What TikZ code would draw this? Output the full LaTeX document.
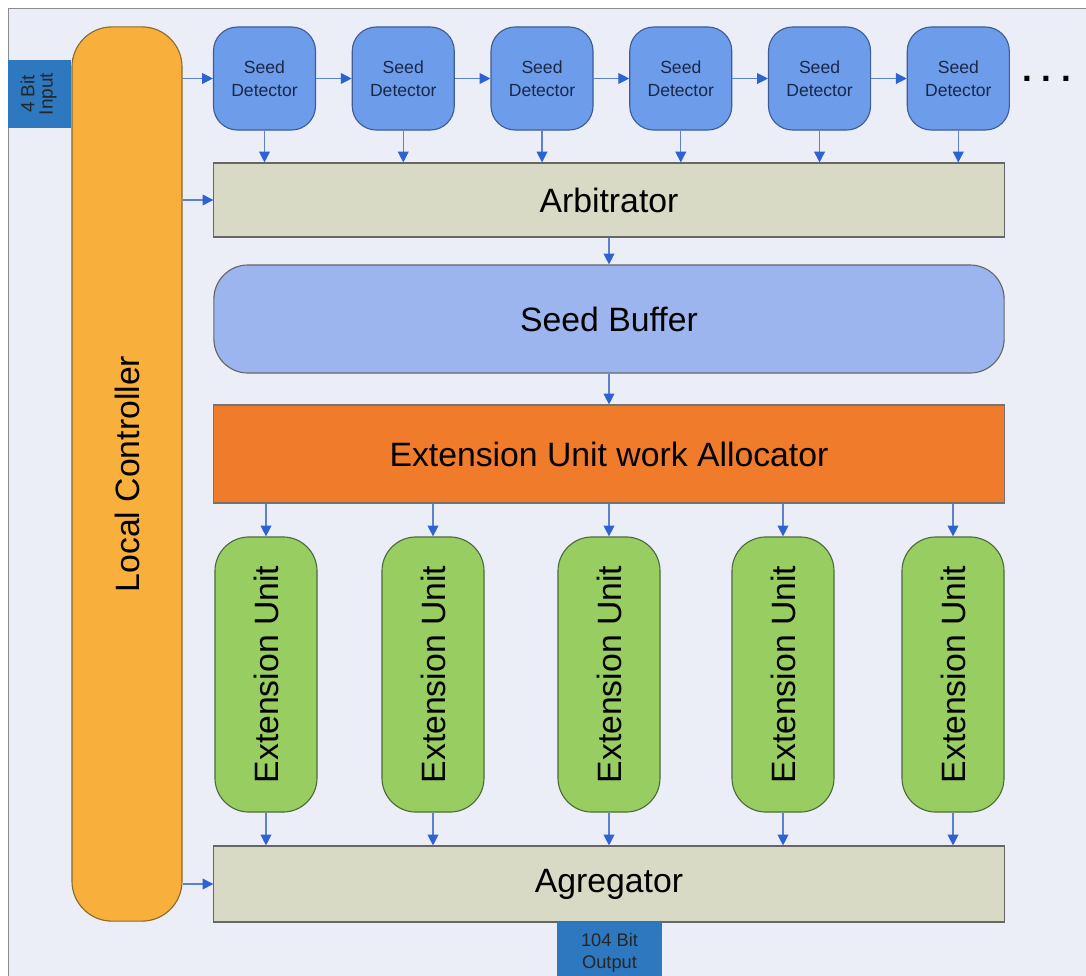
\documentclass[tikz,border=0pt]{standalone}
\usepackage{fontspec}
\setmainfont{Liberation Sans}
\usepackage{graphicx}
\usepackage{xcolor}
\usetikzlibrary{arrows.meta,positioning}
\definecolor{frameback}{HTML}{ECEEF7}
\definecolor{ctrlfill}{HTML}{F8AF3C}
\definecolor{ctrldraw}{HTML}{8C6A2E}
\definecolor{iofill}{HTML}{2E78C0}
\definecolor{sdfill}{HTML}{6C9CEA}
\definecolor{sddraw}{HTML}{3E5C96}
\definecolor{sdtext}{HTML}{1A2848}
\definecolor{barfill}{HTML}{D9DAC5}
\definecolor{buffill}{HTML}{9DB5EE}
\definecolor{allocfill}{HTML}{F07B2B}
\definecolor{eufill}{HTML}{98CD62}
\definecolor{eudraw}{HTML}{4C6B3C}
\definecolor{arrline}{HTML}{5A82CF}
\definecolor{arrhead}{HTML}{2D62D2}
\tikzset{
  sd/.style  ={draw=sddraw, fill=sdfill, line width=0.8pt, rounded corners=0.6cm, align=center, text=sdtext, font=\fontsize{12.5}{16.3}\selectfont, minimum width=2.55cm, minimum height=2.575cm, inner sep=0pt},
  bar/.style ={draw=black!60, fill=barfill, line width=0.8pt, minimum width=19.75cm, font=\fontsize{24}{28}\selectfont, inner sep=0pt},
  eu/.style  ={draw=eudraw, fill=eufill, line width=0.8pt, rounded corners=0.85cm, minimum width=2.55cm, minimum height=6.875cm, font=\fontsize{24}{28}\selectfont, inner sep=0pt},
  io/.style  ={fill=iofill, align=center, text=black!85, inner sep=0pt},
  arr/.style ={draw=arrline, line width=0.8pt, -{Triangle[length=0.27cm, width=0.27cm, color=arrhead]}},
}

\begin{document}
\begin{tikzpicture}[x=0.025cm, y=-0.025cm]
  \useasboundingbox (0,0) rectangle (1086,975);
  \fill[white] (0,0) rectangle (1086,975);
  \draw[draw=black!45, fill=frameback] (8,8) rectangle (1100,990);
  % controller and input port
  \node[draw=ctrldraw, fill=ctrlfill, line width=0.8pt, rounded corners=1cm, minimum width=2.75cm, minimum height=22.35cm, inner sep=0pt, font=\fontsize{24}{28}\selectfont] (lc) at (127,474) {\rotatebox{90}{Local Controller}};
  \node[io, minimum width=1.575cm, minimum height=1.7cm] (inp) at (39.5,94) {\rotatebox{90}{\fontsize{13.5}{14}\selectfont\begin{tabular}{@{}c@{}}4 Bit\\[-1pt]Input\end{tabular}}};
  % seed detectors
  \node[sd] (sd1) at (264.5,78.5) {Seed\\Detector};
  \node[sd, right=0.89cm of sd1] (sd2) {Seed\\Detector};
  \node[sd, right=0.89cm of sd2] (sd3) {Seed\\Detector};
  \node[sd, right=0.89cm of sd3] (sd4) {Seed\\Detector};
  \node[sd, right=0.89cm of sd4] (sd5) {Seed\\Detector};
  \node[sd, right=0.89cm of sd5] (sd6) {Seed\\Detector};
  \node[right=0.3cm of sd6, inner sep=0pt, font=\fontsize{25}{25}\selectfont\bfseries] (dots) {.\hspace{0.28em}.\hspace{0.28em}.};
  % main pipeline
  \node[bar, minimum height=1.85cm] (arb) at (609,200) {Arbitrator};
  \node[bar, fill=buffill, rounded corners=0.85cm, minimum height=2.7cm] (sb) at (609,319) {Seed Buffer};
  \node[bar, fill=allocfill, draw=black!55, minimum height=2.45cm] (alloc) at (609,454) {Extension Unit work Allocator};
  \node[eu] (eu1) at (266,674.5) {\rotatebox{90}{Extension Unit}};
  \node[eu] (eu2) at (433,674.5) {\rotatebox{90}{Extension Unit}};
  \node[eu] (eu3) at (609,674.5) {\rotatebox{90}{Extension Unit}};
  \node[eu] (eu4) at (783,674.5) {\rotatebox{90}{Extension Unit}};
  \node[eu] (eu5) at (953,674.5) {\rotatebox{90}{Extension Unit}};
  \node[bar, minimum height=1.9cm] (agg) at (609,884) {Agregator};
  \node[io, minimum width=2.625cm, minimum height=1.55cm, font=\fontsize{13}{15.5}\selectfont] (outp) at (609.5,953) {104 Bit\\Output};
  % connectors
  \draw[arr] (lc.east |- sd1.west) -- (sd1.west);
  \draw[arr] (sd1) -- (sd2);
  \draw[arr] (sd2) -- (sd3);
  \draw[arr] (sd3) -- (sd4);
  \draw[arr] (sd4) -- (sd5);
  \draw[arr] (sd5) -- (sd6);
  \draw[arr] (sd1.south) -- (sd1.south |- arb.north);
  \draw[arr] (sd2.south) -- (sd2.south |- arb.north);
  \draw[arr] (sd3.south) -- (sd3.south |- arb.north);
  \draw[arr] (sd4.south) -- (sd4.south |- arb.north);
  \draw[arr] (sd5.south) -- (sd5.south |- arb.north);
  \draw[arr] (sd6.south) -- (sd6.south |- arb.north);
  \draw[arr] (lc.east |- arb.west) -- (arb.west);
  \draw[arr] (arb) -- (sb);
  \draw[arr] (sb) -- (alloc);
  \draw[arr] (eu1.north |- alloc.south) -- (eu1.north);
  \draw[arr] (eu2.north |- alloc.south) -- (eu2.north);
  \draw[arr] (eu3.north |- alloc.south) -- (eu3.north);
  \draw[arr] (eu4.north |- alloc.south) -- (eu4.north);
  \draw[arr] (eu5.north |- alloc.south) -- (eu5.north);
  \draw[arr] (eu1.south) -- (eu1.south |- agg.north);
  \draw[arr] (eu2.south) -- (eu2.south |- agg.north);
  \draw[arr] (eu3.south) -- (eu3.south |- agg.north);
  \draw[arr] (eu4.south) -- (eu4.south |- agg.north);
  \draw[arr] (eu5.south) -- (eu5.south |- agg.north);
  \draw[arr] (lc.east |- agg.west) -- (agg.west);
\end{tikzpicture}
\end{document}
